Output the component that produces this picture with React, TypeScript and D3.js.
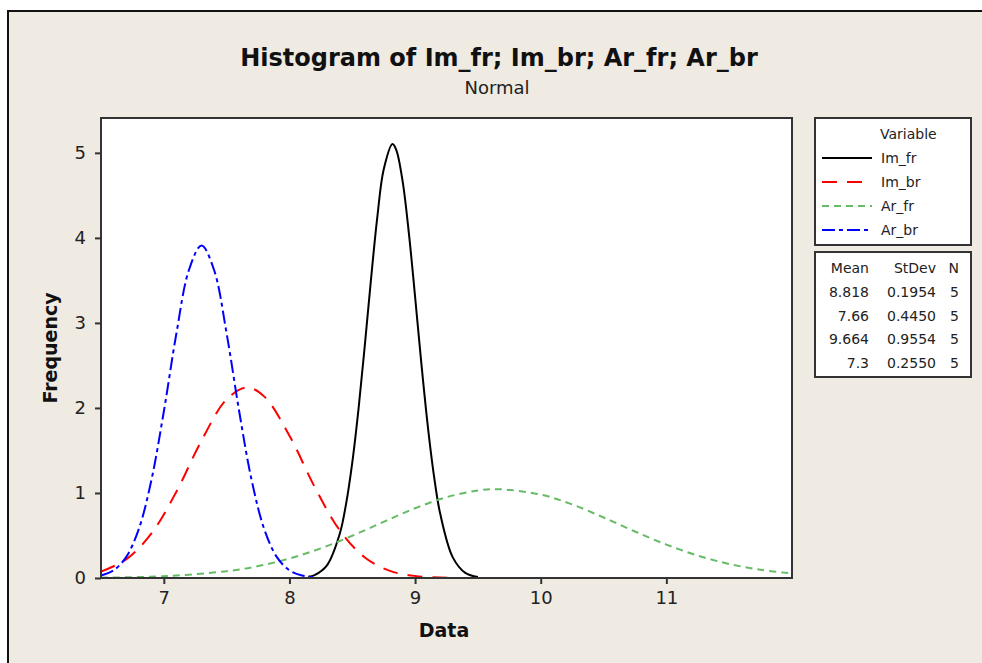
import { useEffect, useRef } from "react";
import * as d3 from "d3";

// values
const seriesNames = ["Im_fr", "Im_br", "Ar_fr", "Ar_br"];

const imFrX = [8.15, 8.2, 8.3, 8.4, 8.45, 8.5, 8.55, 8.6, 8.65, 8.7, 8.75, 8.82, 8.85, 8.9, 8.95, 9.0, 9.05, 9.1, 9.15, 9.2, 9.3, 9.4, 9.5];
const imFrY = [0.015, 0.034, 0.152, 0.518, 0.866, 1.358, 1.993, 2.739, 3.527, 4.254, 4.804, 5.104, 5.036, 4.674, 4.063, 3.308, 2.522, 1.802, 1.205, 0.755, 0.243, 0.06, 0.012];

const imBrX = [6.5, 6.7, 6.9, 7.1, 7.3, 7.5, 7.66, 7.8, 8.0, 8.2, 8.4, 8.6, 8.8, 9.0, 9.2, 9.3];
const imBrY = [0.075, 0.219, 0.521, 1.015, 1.616, 2.101, 2.241, 2.133, 1.674, 1.073, 0.562, 0.241, 0.084, 0.024, 0.006, 0.002];

const arFrX = [6.5, 7.0, 7.5, 7.75, 8.0, 8.25, 8.5, 8.75, 9.0, 9.25, 9.5, 9.664, 10.0, 10.25, 10.5, 10.75, 11.0, 11.25, 11.5, 11.75, 12.0];
const arFrY = [0.004, 0.021, 0.08, 0.14, 0.229, 0.349, 0.497, 0.661, 0.82, 0.95, 1.029, 1.044, 0.981, 0.865, 0.712, 0.547, 0.393, 0.263, 0.165, 0.096, 0.053];

const arBrX = [6.5, 6.6, 6.7, 6.8, 6.9, 7.0, 7.1, 7.2, 7.3, 7.4, 7.5, 7.6, 7.7, 7.8, 7.9, 8.0, 8.1, 8.2];
const arBrY = [0.029, 0.09, 0.246, 0.572, 1.143, 1.958, 2.875, 3.622, 3.911, 3.622, 2.875, 1.958, 1.143, 0.572, 0.246, 0.09, 0.029, 0.008];

const xTicks = [7, 8, 9, 10, 11];
const yTicks = [0, 1, 2, 3, 4, 5];

const means = ["8.818", "7.66", "9.664", "7.3"];
const stDevs = ["0.1954", "0.4450", "0.9554", "0.2550"];
const counts = ["5", "5", "5", "5"];

const colors = ["#000000", "#ff0000", "#66bb66", "#0000ff"];
const dashes = ["none", "15,10", "7,5", "13,4,4,4"];

const FONT = "Tahoma, 'DejaVu Sans', sans-serif";

function App() {
    const svgRef = useRef();
    const width = 982;
    const height = 663;
    const plot = { left: 101, right: 792, top: 118, bottom: 578 };

    useEffect(() => {
        const svg = d3.select(svgRef.current);
        svg.selectAll("*").remove();

        const xScale = d3.scaleLinear().domain([6.5, 12]).range([plot.left, plot.right]);
        const yScale = d3.scaleLinear().domain([0, 5.41]).range([plot.bottom, plot.top]);

        // outer frame
        svg.append("rect").attr("width", width).attr("height", height).attr("fill", "#ffffff");
        svg.append("rect")
            .attr("x", 8).attr("y", 11)
            .attr("width", width + 20).attr("height", height + 20)
            .attr("fill", "#efeae2")
            .attr("stroke", "#111").attr("stroke-width", 2);

        // titles
        svg.append("text")
            .attr("x", 499).attr("y", 66)
            .attr("text-anchor", "middle")
            .style("font-family", FONT).style("font-size", "24px").style("font-weight", "bold")
            .attr("fill", "#111")
            .text("Histogram of Im_fr; Im_br; Ar_fr; Ar_br");
        svg.append("text")
            .attr("x", 497).attr("y", 94)
            .attr("text-anchor", "middle")
            .style("font-family", FONT).style("font-size", "18px")
            .attr("fill", "#222")
            .text("Normal");

        // plot area
        svg.append("rect")
            .attr("x", plot.left).attr("y", plot.top)
            .attr("width", plot.right - plot.left).attr("height", plot.bottom - plot.top)
            .attr("fill", "#ffffff");

        svg.append("clipPath").attr("id", "plotClip")
            .append("rect")
            .attr("x", plot.left).attr("y", plot.top)
            .attr("width", plot.right - plot.left).attr("height", plot.bottom - plot.top);

        // curves
        const allData = [
            d3.zip(imFrX, imFrY),
            d3.zip(imBrX, imBrY),
            d3.zip(arFrX, arFrY),
            d3.zip(arBrX, arBrY),
        ];
        const line = d3.line()
            .x((d) => xScale(d[0]))
            .y((d) => yScale(d[1]))
            .curve(d3.curveCatmullRom.alpha(0.5));

        svg.append("g").attr("clip-path", "url(#plotClip)")
            .selectAll(".line")
            .data(allData)
            .enter()
            .append("path")
            .attr("class", "line")
            .attr("fill", "none")
            .attr("stroke", (_, i) => colors[i])
            .attr("stroke-width", 2)
            .attr("stroke-dasharray", (_, i) => dashes[i])
            .attr("d", (d) => line(d));

        // plot border
        svg.append("rect")
            .attr("x", plot.left).attr("y", plot.top)
            .attr("width", plot.right - plot.left).attr("height", plot.bottom - plot.top)
            .attr("fill", "none").attr("stroke", "#333").attr("stroke-width", 2);

        // x-axis
        const xAxis = svg.append("g")
            .attr("transform", `translate(0, ${plot.bottom})`)
            .call(d3.axisBottom(xScale).tickValues(xTicks).tickFormat(d3.format("d"))
                .tickSize(6).tickSizeOuter(0).tickPadding(7));
        xAxis.select(".domain").remove();
        xAxis.selectAll("line").attr("stroke", "#333").attr("stroke-width", 2);
        xAxis.selectAll("text")
            .style("font-family", FONT).style("font-size", "18px").attr("fill", "#222");

        // y-axis
        const yAxis = svg.append("g")
            .attr("transform", `translate(${plot.left}, 0)`)
            .call(d3.axisLeft(yScale).tickValues(yTicks).tickFormat(d3.format("d"))
                .tickSize(6).tickSizeOuter(0).tickPadding(9));
        yAxis.select(".domain").remove();
        yAxis.selectAll("line").attr("stroke", "#333").attr("stroke-width", 2);
        yAxis.selectAll("text")
            .style("font-family", FONT).style("font-size", "18px").attr("fill", "#222");

        // axis titles
        svg.append("text")
            .attr("x", 444).attr("y", 637)
            .attr("text-anchor", "middle")
            .style("font-family", FONT).style("font-size", "19px").style("font-weight", "bold")
            .attr("fill", "#111")
            .text("Data");
        svg.append("text")
            .attr("transform", "translate(57, 348) rotate(-90)")
            .attr("text-anchor", "middle")
            .style("font-family", FONT).style("font-size", "19px").style("font-weight", "bold")
            .attr("fill", "#111")
            .text("Frequency");

        // legend box
        const legend = svg.append("g");
        legend.append("rect")
            .attr("x", 815).attr("y", 118).attr("width", 156).attr("height", 127)
            .attr("fill", "#ffffff").attr("stroke", "#333").attr("stroke-width", 2);
        legend.append("text")
            .attr("x", 880).attr("y", 139)
            .style("font-family", FONT).style("font-size", "14px").attr("fill", "#222")
            .text("Variable");
        seriesNames.forEach((name, i) => {
            const y = 158 + i * 24;
            legend.append("line")
                .attr("x1", 822).attr("x2", 872).attr("y1", y).attr("y2", y)
                .attr("stroke", colors[i]).attr("stroke-width", 1.8)
                .attr("stroke-dasharray", dashes[i]);
            legend.append("text")
                .attr("x", 881).attr("y", y + 5)
                .style("font-family", FONT).style("font-size", "14px").attr("fill", "#222")
                .text(name);
        });

        // stats table
        const stats = svg.append("g");
        stats.append("rect")
            .attr("x", 815).attr("y", 252).attr("width", 156).attr("height", 125)
            .attr("fill", "#ffffff").attr("stroke", "#333").attr("stroke-width", 2);
        const cols = [
            { x: 869, head: "Mean", vals: means },
            { x: 936, head: "StDev", vals: stDevs },
            { x: 959, head: "N", vals: counts },
        ];
        cols.forEach((c) => {
            stats.append("text")
                .attr("x", c.x).attr("y", 273).attr("text-anchor", "end")
                .style("font-family", FONT).style("font-size", "14px").attr("fill", "#222")
                .text(c.head);
            c.vals.forEach((v, j) => {
                stats.append("text")
                    .attr("x", c.x).attr("y", 297 + j * 23.7).attr("text-anchor", "end")
                    .style("font-family", FONT).style("font-size", "14px").attr("fill", "#222")
                    .text(v);
            });
        });
    }, []);

    return (
        <div style={{ position: "absolute", left: 0, top: 0 }}>
            <svg ref={svgRef} width={width} height={height} style={{ display: "block" }}></svg>
        </div>
    );
}

export default App;
